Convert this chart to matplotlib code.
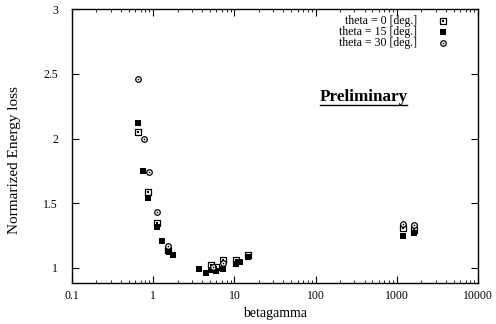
import matplotlib
matplotlib.use("Agg")
import matplotlib.pyplot as plt
from matplotlib.ticker import FixedLocator, FixedFormatter, LogLocator, NullFormatter

plt.rcParams['font.family'] = ['Liberation Serif', 'DejaVu Serif']

# theta = 0 deg (open square)
bg0 = [0.65, 0.862, 1.11, 1.52, 5.15, 5.93, 7.25, 10.5, 14.7, 1190, 1620]
e0 = [2.05, 1.59, 1.35, 1.14, 1.02, 1.01, 1.06, 1.06, 1.10, 1.31, 1.29]
# theta = 15 deg (filled square)
bg15 = [0.65, 0.748, 0.862, 1.11, 1.28, 1.56, 1.75, 3.66, 4.47, 5.15, 5.93, 7.25, 10.5, 11.7, 14.7, 1190, 1620]
e15 = [2.12, 1.75, 1.54, 1.32, 1.21, 1.12, 1.10, 0.99, 0.965, 0.985, 0.98, 0.99, 1.03, 1.05, 1.085, 1.25, 1.27]
# theta = 30 deg (open circle)
bg30 = [0.65, 0.77, 0.887, 1.11, 1.52, 5.5, 7.25, 1190, 1620]
e30 = [2.46, 2.00, 1.74, 1.43, 1.17, 1.01, 1.04, 1.34, 1.33]

labels = ['theta = 0 [deg.]', 'theta = 15 [deg.]', 'theta = 30 [deg.]']
xticks = [0.1, 1, 10, 100, 1000, 10000]
xticklabels = ['0.1', '1', '10', '100', '1000', '10000']
yticks = [1, 1.5, 2, 2.5, 3]
yticklabels = ['1', '1.5', '2', '2.5', '3']

fig = plt.figure(figsize=(4.96, 3.24), dpi=100)
ax = fig.add_axes([0.145, 0.1265, 0.819, 0.8455])

def open_sq(x, y, **kw):
    ax.scatter(x, y, marker='s', s=16, facecolors='white', edgecolors='black', linewidths=0.9, zorder=3, **kw)
    ax.scatter(x, y, marker='s', s=1.5, color='black', linewidths=0, zorder=4, **kw)

def filled_sq(x, y, **kw):
    ax.scatter(x, y, marker='s', s=22, color='black', linewidths=0, zorder=3, **kw)

def open_circ(x, y, **kw):
    ax.scatter(x, y, marker='o', s=16, facecolors='white', edgecolors='black', linewidths=0.9, zorder=3, **kw)
    ax.scatter(x, y, marker='o', s=1.5, color='black', linewidths=0, zorder=4, **kw)

open_sq(bg0, e0)
filled_sq(bg15, e15)
open_circ(bg30, e30)

ax.set_xscale('log')
ax.set_xlim(0.1, 10000)
ax.set_ylim(0.884, 3)
ax.xaxis.set_major_locator(FixedLocator(xticks))
ax.xaxis.set_major_formatter(FixedFormatter(xticklabels))
ax.xaxis.set_minor_locator(LogLocator(base=10, subs=(2, 3, 4, 5, 6, 7, 8, 9)))
ax.xaxis.set_minor_formatter(NullFormatter())
ax.yaxis.set_major_locator(FixedLocator(yticks))
ax.yaxis.set_major_formatter(FixedFormatter(yticklabels))

ax.tick_params(which='both', direction='in', top=True, right=True, labelsize=8.5, colors='black')
ax.tick_params(which='major', length=5, width=0.8)
ax.tick_params(axis='y', which='major', pad=10)
ax.tick_params(axis='x', which='major', pad=5)
ax.tick_params(which='minor', length=2.5, width=0.6)
for sp in ax.spines.values():
    sp.set_linewidth(1.0)

ax.set_xlabel('betagamma', fontsize=10)
ax.set_ylabel('Normarized Energy loss', fontsize=11)
ax.xaxis.set_label_coords(0.5, -0.088)
ax.yaxis.set_label_coords(-0.125, 0.45)

ax.text(0.611, 0.679, 'Preliminary', transform=ax.transAxes, fontsize=12.3, fontweight='bold',
        ha='left', va='center')
ax.plot([0.611, 0.826], [0.648, 0.648], transform=ax.transAxes, color='black', lw=1.0)

# legend (gnuplot style: text right-aligned, marker on the right)
leg_y = [0.955, 0.915, 0.875]
ax.text(0.850, leg_y[0], labels[0], transform=ax.transAxes, ha='right', va='center', fontsize=8.5)
ax.text(0.850, leg_y[1], labels[1], transform=ax.transAxes, ha='right', va='center', fontsize=8.5)
ax.text(0.850, leg_y[2], labels[2], transform=ax.transAxes, ha='right', va='center', fontsize=8.5)
open_sq([0.914], [leg_y[0]], transform=ax.transAxes, clip_on=False)
filled_sq([0.914], [leg_y[1]], transform=ax.transAxes, clip_on=False)
open_circ([0.914], [leg_y[2]], transform=ax.transAxes, clip_on=False)

fig.savefig('out.png', dpi=100)
